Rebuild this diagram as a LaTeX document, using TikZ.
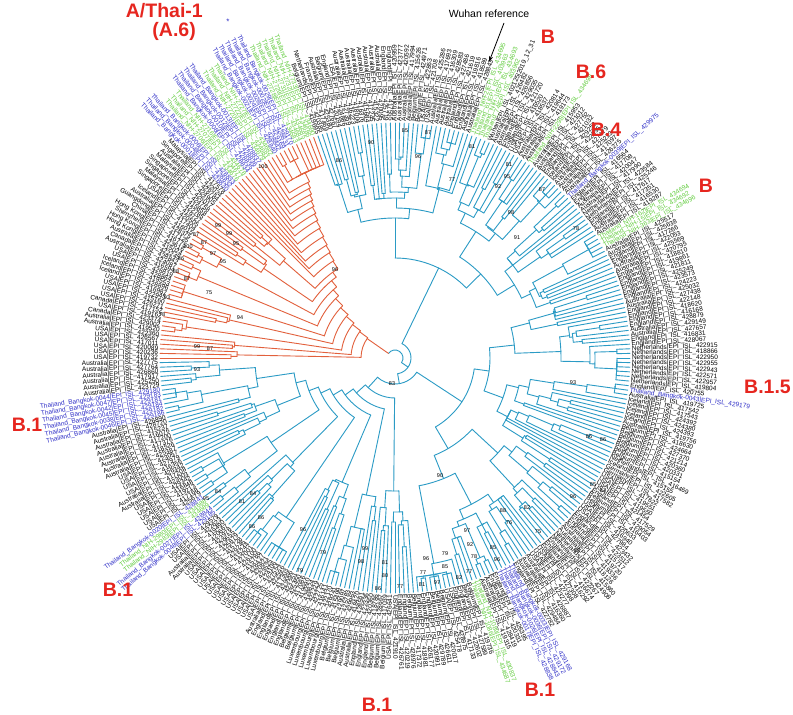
\documentclass[tikz,border=0pt]{standalone}
\usepackage{fontspec}
\setmainfont{Liberation Sans}
\usetikzlibrary{arrows.meta}
\definecolor{cladeA}{HTML}{E2603C}
\definecolor{cladeB}{HTML}{2B9BC5}
\definecolor{thB}{HTML}{3030C8}
\definecolor{thG}{HTML}{62CC3E}
\definecolor{labR}{HTML}{E6261F}
\tikzset{
  br/.style={line width=0.9pt, line cap=round, line join=round},
  leaflab/.style={font=\fontsize{6.5}{6.5}\selectfont, inner sep=0pt, outer sep=0pt},
  boot/.style={font=\fontsize{5.5}{5.5}\selectfont, inner sep=0pt, text=black},
  cladelab/.style={font=\bfseries\fontsize{19.5}{19.5}\selectfont, text=labR, inner sep=0pt},
  wuhantext/.style={font=\fontsize{10.5}{10.5}\selectfont, inner sep=0pt},
}
\newcommand\TArc[4]{\draw[br,#1] (#3:#2pt) arc[start angle=#3, end angle=#4, radius=#2pt];}
\newcommand\TRad[4]{\draw[br,#1] (#2:#3pt) -- (#2:#4pt);}
\newcommand\TLab[6]{\node[leaflab,text=#5,anchor=#4,rotate=#3] (L#1) at (#2:237pt) {#6};}
\ExplSyntaxOn
\int_new:N \g_tr_seed_int
\int_gset:Nn \g_tr_seed_int {2024}
\int_new:N \l_tr_tmp_int
\cs_new_protected:Npn \tr_rand:Nn #1#2
  {
    \int_gset:Nn \g_tr_seed_int { \int_mod:nn { \g_tr_seed_int * 75 + 74 } { 65537 } }
    \int_set:Nn #1 { \int_mod:nn { \g_tr_seed_int } { #2 } }
  }
\intarray_new:Nn \g_tr_h_intarray {330}
\intarray_new:Nn \g_tr_f_intarray {330}
\intarray_new:Nn \g_tr_fl_intarray {330}
\intarray_new:Nn \g_tr_fr_intarray {330}
\cs_new:Npn \tr_h:n #1 { \intarray_item:Nn \g_tr_h_intarray { #1 + 2 } }
\cs_new:Npn \tr_f:n #1 { \intarray_item:Nn \g_tr_f_intarray { #1 + 2 } }
\cs_new_protected:Npn \tr_force:nn #1#2 { \intarray_gset:Nnn \g_tr_f_intarray { #1 + 2 } { #2 } }
\cs_new_protected:Npn \__tr_fp:w #1/#2 \q_stop { \tr_force:nn {#1} {#2} }
\clist_map_inline:nn
  {
    2/34, 5/44, 9/54, 13/64, 17/74, 22/84, 27/92, 33/100, 39/106,
    40/115, 41/124, 42/132, 43/141, 44/150, 45/158, 46/165, 47/172, 48/178, 49/184, 50/190, 51/196,
    62/8, 143/16, 97/100, 72/140, 88/150, 120/120, 108/150, 131/140,
    235/26, 190/80, 165/95, 150/120, 178/115,
    205/105, 225/130, 198/140, 213/165, 217/175, 221/180,
    245/40, 255/52, 265/62, 275/72, 283/82, 295/92, 305/102, 288/150, 307/150, 313/140
  }
  { \__tr_fp:w #1 \q_stop }

\int_new:N \l_tr_last_int
\int_new:N \l_tr_d_int
\int_new:N \l_tr_lo_int
\int_new:N \l_tr_D_int
\cs_new_protected:Npn \tr_fill:
  {
    \int_set:Nn \l_tr_last_int {0}
    \int_step_inline:nnn {0} {318}
      {
        \int_compare:nNnT { \tr_f:n {##1} } > {0}
          { \int_set:Nn \l_tr_last_int { \tr_f:n {##1} } }
        \intarray_gset:Nnn \g_tr_fl_intarray { ##1 + 2 } { \l_tr_last_int }
      }
    \int_set:Nn \l_tr_last_int {0}
    \int_step_inline:nnnn {318} {-1} {0}
      {
        \int_compare:nNnT { \tr_f:n {##1} } > {0}
          { \int_set:Nn \l_tr_last_int { \tr_f:n {##1} } }
        \intarray_gset:Nnn \g_tr_fr_intarray { ##1 + 2 } { \l_tr_last_int }
      }
    \intarray_gset:Nnn \g_tr_h_intarray {1} {-1000}
    \intarray_gset:Nnn \g_tr_h_intarray {321} {-1000}
    \int_set:Nn \l_tr_d_int {25}
    \int_step_inline:nnn {0} {318}
      {
        \int_compare:nNnTF { \tr_f:n {##1} } > {0}
          {
            \intarray_gset:Nnn \g_tr_h_intarray { ##1 + 2 } { \tr_f:n {##1} }
            \int_set:Nn \l_tr_d_int {25}
          }
          {
            \int_set:Nn \l_tr_lo_int
              {
                \int_max:nn { \intarray_item:Nn \g_tr_fl_intarray { ##1 + 2 } }
                            { \intarray_item:Nn \g_tr_fr_intarray { ##1 + 2 } } + 10
              }
            \int_set:Nn \l_tr_D_int { \int_min:nn { 222 - \l_tr_lo_int } { 95 } }
            \int_compare:nNnT { \l_tr_D_int } < {0} { \int_set:Nn \l_tr_D_int {0} }
            \tr_rand:Nn \l_tr_tmp_int {71}
            \int_set:Nn \l_tr_d_int { \l_tr_d_int + \l_tr_tmp_int - 35 }
            \int_compare:nNnT { \l_tr_d_int } < {0} { \int_set:Nn \l_tr_d_int {0} }
            \int_compare:nNnT { \l_tr_d_int } > { \l_tr_D_int }
              { \int_set_eq:NN \l_tr_d_int \l_tr_D_int }
            \intarray_gset:Nnn \g_tr_h_intarray { ##1 + 2 } { 222 - \l_tr_d_int }
          }
      }
  }

\int_new:N \l_tr_hg_int
\int_new:N \l_tr_a_int
\int_new:N \l_tr_b_int
\int_new:N \l_tr_rl_int
\int_new:N \l_tr_rr_int
\int_new:N \l_tr_j_int
\tl_new:N \l_tr_ca_tl
\tl_new:N \l_tr_cl_tl
\tl_new:N \l_tr_al_tl
\tl_new:N \l_tr_ar_tl
\cs_new_protected:Npn \tr_node:n #1
  {
    \int_set:Nn \l_tr_hg_int { \tr_h:n {#1} }
    \int_set:Nn \l_tr_j_int { #1 - 1 }
    \int_while_do:nNnn { \tr_h:n { \l_tr_j_int } } > { \l_tr_hg_int - 1 }
      { \int_decr:N \l_tr_j_int }
    \int_set:Nn \l_tr_a_int { \l_tr_j_int + 1 }
    \int_set:Nn \l_tr_j_int { #1 + 1 }
    \int_while_do:nNnn { \tr_h:n { \l_tr_j_int } } > { \l_tr_hg_int }
      { \int_incr:N \l_tr_j_int }
    \int_set_eq:NN \l_tr_b_int \l_tr_j_int
    \int_set:Nn \l_tr_rl_int {235}
    \int_compare:nNnT { \l_tr_a_int } < { #1 }
      {
        \int_set:Nn \l_tr_rl_int {1000}
        \int_step_inline:nnn { \l_tr_a_int } { #1 - 1 }
          { \int_set:Nn \l_tr_rl_int { \int_min:nn { \l_tr_rl_int } { \tr_h:n {##1} } } }
      }
    \int_set:Nn \l_tr_rr_int {235}
    \int_compare:nNnT { \l_tr_b_int } > { #1 + 1 }
      {
        \int_set:Nn \l_tr_rr_int {1000}
        \int_step_inline:nnn { #1 + 1 } { \l_tr_b_int - 1 }
          { \int_set:Nn \l_tr_rr_int { \int_min:nn { \l_tr_rr_int } { \tr_h:n {##1} } } }
      }
    \tl_set:Nx \l_tr_al_tl { \fp_eval:n { 180 - 0.5625 * ( \l_tr_a_int + #1 ) } }
    \tl_set:Nx \l_tr_ar_tl { \fp_eval:n { 180 - 0.5625 * ( #1 + 1 + \l_tr_b_int ) } }
    \int_compare:nNnTF { \l_tr_b_int } < { 63 }
      { \tl_set:Nn \l_tr_ca_tl {cladeA} } { \tl_set:Nn \l_tr_ca_tl {cladeB} }
    \int_compare:nNnTF { #1 } < { 63 }
      { \tl_set:Nn \l_tr_cl_tl {cladeA} } { \tl_set:Nn \l_tr_cl_tl {cladeB} }
    \use:e
      {
        \exp_not:N \TArc { \l_tr_ca_tl } { \int_use:N \l_tr_hg_int } { \l_tr_al_tl } { \l_tr_ar_tl }
        \exp_not:N \TRad { \l_tr_cl_tl } { \l_tr_al_tl } { \int_use:N \l_tr_hg_int } { \int_use:N \l_tr_rl_int }
        \exp_not:N \TRad { \l_tr_ca_tl } { \l_tr_ar_tl } { \int_use:N \l_tr_hg_int } { \int_use:N \l_tr_rr_int }
      }
  }

\cs_new_protected:Npn \tr_bp:nn #1#2 { \tl_gset:cn { g_tr_bp_#1_tl } {#2} }
\cs_new_protected:Npn \__tr_bpw:w #1/#2 \q_stop { \tr_bp:nn {#1} {#2} }
\cs_new_protected:Npn \tr_setlab:nnn #1#2#3
  { \tl_gset:cn { g_tr_lab_#1_tl } {#3} \tl_gset:cn { g_tr_col_#1_tl } {#2} }
\cs_new_protected:Npn \__tr_lw:w #1/#2/#3 \q_stop { \tr_setlab:nnn {#1} {#2} {#3} }

\clist_map_inline:nn
  {
    0/USA, 6/Australia, 8/Canada, 9/USA, 10/Canada, 11/USA, 15/Iceland, 18/USA, 20/Australia,
    21/Canada, 22/Australia, 23/Hong~Kong, 25/Shenzhen, 26/Hong~Kong, 27/China, 28/Guangdong,
    29/Australia, 30/Iceland, 31/USA, 32/Singapore, 33/Malaysia, 34/Singapore, 36/Malaysia,
    37/Australia, 38/Singapore, 39/Malaysia,
    63/Belgium, 64/Netherlands, 65/France, 66/Australia, 67/Belgium, 68/England, 69/USA,
    70/Australia, 78/England, 80/Australia, 84/Belgium, 86/USA, 88/Australia, 92/England,
    95/Australia, 102/Australia, 104/England, 106/USA, 108/Australia, 112/Australia,
    114/England, 116/Iceland, 118/Australia, 123/England, 125/Australia, 127/Netherlands,
    129/England, 131/Australia, 148/Australia, 150/England, 154/Australia, 156/England,
    158/Netherlands, 191/Belgium,
    193/USA, 196/England, 199/Australia, 202/Netherlands, 204/England, 207/USA, 210/Australia,
    213/England, 218/England, 220/Australia, 224/Belgium, 226/England, 228/USA, 230/Belgium,
    233/England, 236/Belgium, 238/England, 240/USA, 242/Belgium, 245/England, 248/Australia,
    250/Belgium, 253/Luxembourg, 258/Belgium, 260/England, 265/Australia, 266/USA,
    280/Australia, 282/USA, 289/USA, 294/Australia, 296/USA, 300/Australia, 314/Australia
  }
  { \__tr_bpw:w #1 \q_stop }

\clist_map_inline:nn
  {
    40/thB/Thailand_Bangkok-0001|EPI_ISL_428830,
    41/thB/Thailand_Bangkok-0004|EPI_ISL_428832,
    42/thB/Thailand_Bangkok-0006|EPI_ISL_428833,
    43/thG/Thailand_NIH-2706|EPI_ISL_434676,
    44/thG/Thailand_NIH-2707|EPI_ISL_434677,
    45/thG/Thailand_NIH-2716|EPI_ISL_434678,
    46/thB/Thailand_Bangkok-0008|EPI_ISL_428834,
    47/thB/Thailand_Bangkok-0010|EPI_ISL_428835,
    48/thB/Thailand_Bangkok-0012|EPI_ISL_428836,
    49/thB/Thailand_Bangkok-0013|EPI_ISL_428837,
    50/thG/Thailand_NIH-2720|EPI_ISL_434679,
    51/thG/Thailand_NIH-2722|EPI_ISL_434681,
    52/thG/Thailand_NIH-2727|EPI_ISL_434682,
    53/thB/Thailand_Bangkok-0021|EPI_ISL_428840,
    54/thB/Thailand_Bangkok-0024|EPI_ISL_428842,
    55/thB/Thailand_Bangkok-0028|EPI_ISL_429169,
    56/thB/Thailand_Bangkok-0002|EPI_ISL_428831,
    57/thB/Thailand_Bangkok-0029|EPI_ISL_429170,
    58/thG/Thailand_NIH-2728|EPI_ISL_434683,
    59/thG/Thailand_NIH-2729|EPI_ISL_434684,
    60/thG/Thailand_NIH-2731|EPI_ISL_434685,
    61/thG/Thailand_NIH-2732|EPI_ISL_434686,
    62/thG/Thailand_NIH-2733|EPI_ISL_434690,
    97/thG/Thailand_NIH-2|EPI_ISL_434695,
    98/thG/Thailand_61|EPI_ISL_403963,
    99/thG/Thailand_NIH-1|EPI_ISL_434693,
    100/thG/Thailand_74|EPI_ISL_403962,
    101/black/Wuhan|EPI_ISL_402125|2019_12_31,
    111/thG/Thailand_NIH-2298|EPI_ISL_434698,
    122/thB/Thailand_Bangkok-0039|EPI_ISL_429975,
    133/thG/Thailand_NIH-162|EPI_ISL_434694,
    134/thG/Thailand_NIH-15|EPI_ISL_434692,
    135/thG/Thailand_NIH-363|EPI_ISL_434696,
    136/black/Australia|EPI_ISL_425517,
    137/black/Australia|EPI_ISL_425638,
    138/black/England|EPI_ISL_417266,
    139/black/England|EPI_ISL_422053,
    140/black/Australia|EPI_ISL_425569,
    141/black/Australia|EPI_ISL_420795,
    142/black/England|EPI_ISL_418810,
    143/black/England|EPI_ISL_419861,
    144/black/England|EPI_ISL_421811,
    145/black/England|EPI_ISL_425249,
    146/black/England|EPI_ISL_423573,
    147/black/England|EPI_ISL_424223,
    160/black/Netherlands|EPI_ISL_422950,
    161/black/Netherlands|EPI_ISL_422955,
    162/black/Netherlands|EPI_ISL_422943,
    163/black/Netherlands|EPI_ISL_422571,
    164/black/Netherlands|EPI_ISL_422957,
    165/black/Netherlands|EPI_ISL_419804,
    166/black/England|EPI_ISL_420755,
    167/thB/Thailand_Bangkok-0043|EPI_ISL_429179,
    168/black/Australia|EPI_ISL_419725,
    169/black/Iceland|EPI_ISL_417542,
    170/black/Iceland|EPI_ISL_417543,
    171/black/Iceland|EPI_ISL_424392,
    172/black/Iceland|EPI_ISL_424380,
    173/black/Iceland|EPI_ISL_424393,
    174/black/Australia|EPI_ISL_419756,
    175/black/Belgium|EPI_ISL_418630,
    176/black/Belgium|EPI_ISL_424664,
    177/black/Belgium|EPI_ISL_427370,
    178/black/Belgium|EPI_ISL_421214,
    179/black/Belgium|EPI_ISL_420360,
    180/black/Belgium|EPI_ISL_420331,
    181/black/Belgium|EPI_ISL_415154,
    182/black/Netherlands|EPI_ISL_416469,
    183/black/Iceland|EPI_ISL_415155,
    184/black/Germany|EPI_ISL_422605,
    185/black/Germany|EPI_ISL_417582,
    186/black/USA|EPI_ISL_417622,
    187/black/USA|EPI_ISL_419551,
    188/black/USA|EPI_ISL_419550,
    189/black/USA|EPI_ISL_421454,
    190/black/England|EPI_ISL_417529,
    214/thB/Thailand_Bangkok-0033|EPI_ISL_429168,
    215/thB/Thailand_Bangkok-0036|EPI_ISL_429172,
    216/thB/Thailand_Bangkok-0026|EPI_ISL_428843,
    217/thB/Thailand_Bangkok-0017|EPI_ISL_428838,
    222/thG/Thailand_NIH-1089|EPI_ISL_430837,
    223/thG/Thailand_NIH-1086|EPI_ISL_434687,
    284/thB/Thailand_Bangkok-0048|EPI_ISL_429185,
    285/thB/Thailand_Bangkok-0027|EPI_ISL_428844,
    286/thG/Thailand_NIH-2983|EPI_ISL_434689,
    287/thG/Thailand_NIH-2980|EPI_ISL_434688,
    288/thB/Thailand_Bangkok-0020|EPI_ISL_428841,
    308/thB/Thailand_Bangkok-0046|EPI_ISL_429186,
    309/thB/Thailand_Bangkok-0038|EPI_ISL_429182,
    310/thB/Thailand_Bangkok-0045|EPI_ISL_429184,
    311/thB/Thailand_Bangkok-0042|EPI_ISL_429181,
    312/thB/Thailand_Bangkok-0047|EPI_ISL_429183,
    313/thB/Thailand_Bangkok-0044|EPI_ISL_429180,
    317/black/Australia|EPI_ISL_426860,
    318/black/Australia|EPI_ISL_427764,
    319/black/Australia|EPI_ISL_427775
  }
  { \__tr_lw:w #1 \q_stop }

\tl_new:N \l_tr_cty_tl
\tl_new:N \l_tr_text_tl
\tl_new:N \l_tr_col_tl
\tl_new:N \l_tr_anc_tl
\tl_new:N \l_tr_th_tl
\tl_new:N \l_tr_rot_tl
\cs_new_protected:Npn \tr_labels:
  {
    \tl_set:Nn \l_tr_cty_tl {USA}
    \int_step_inline:nnn {0} {319}
      {
        \tl_if_exist:cT { g_tr_bp_##1_tl } { \tl_set_eq:Nc \l_tr_cty_tl { g_tr_bp_##1_tl } }
        \tr_rand:Nn \l_tr_tmp_int {15000}
        \tl_if_exist:cTF { g_tr_lab_##1_tl }
          {
            \tl_set_eq:Nc \l_tr_text_tl { g_tr_lab_##1_tl }
            \tl_set_eq:Nc \l_tr_col_tl { g_tr_col_##1_tl }
          }
          {
            \tl_set:Nx \l_tr_text_tl
              { \exp_not:V \l_tr_cty_tl | EPI_ISL_ \int_eval:n { 415000 + \l_tr_tmp_int } }
            \tl_set:Nn \l_tr_col_tl {black}
          }
        \tl_set:Nx \l_tr_th_tl { \fp_eval:n { 180 - 1.125 * ##1 } }
        \int_compare:nNnTF { ##1 } < { 80 }
          {
            \tl_set:Nx \l_tr_rot_tl { \fp_eval:n { \l_tr_th_tl - 180 } }
            \tl_set:Nn \l_tr_anc_tl {east}
          }
          {
            \int_compare:nNnTF { ##1 } > { 240 }
              {
                \tl_set:Nx \l_tr_rot_tl { \fp_eval:n { \l_tr_th_tl + 180 } }
                \tl_set:Nn \l_tr_anc_tl {east}
              }
              {
                \tl_set_eq:NN \l_tr_rot_tl \l_tr_th_tl
                \tl_set:Nn \l_tr_anc_tl {west}
              }
          }
        \use:e
          {
            \exp_not:N \TLab { ##1 } { \l_tr_th_tl } { \l_tr_rot_tl } { \l_tr_anc_tl } { \l_tr_col_tl }
              { \exp_not:V \l_tr_text_tl }
          }
      }
  }
\cs_new_protected:Npn \DrawTree { \tr_fill: \int_step_function:nnN {0} {318} \tr_node:n }
\cs_new_protected:Npn \DrawLabels { \tr_labels: }
\ExplSyntaxOff

\begin{document}
\begin{tikzpicture}[x=1pt,y=1pt]
\useasboundingbox (0,0) rectangle (793,-715);
\fill[white] (0,0) rectangle (793,-715);
\begin{scope}[shift={(395,-358)}]
\DrawTree
\DrawLabels
\end{scope}
% bootstrap values
\foreach \bx/\by/\bv [count=\bc] in {263/167/100, 218/226/99, 229/234/99, 196/235/87, 204/243/87, 236/244/95,
  188/247/100, 213/254/97, 223/262/95, 181/259/86, 176/272/88, 187/279/87, 209/293/75, 335/270/96,
  167/298/93, 162/315/78, 240/318/94, 197/347/99, 210/349/87, 339/161/86, 371/143/90, 405/131/85,
  428/133/87, 418/157/96, 472/147/81, 452/180/77, 509/165/81, 507/177/95, 498/187/92, 542/190/87,
  511/213/98, 517/238/91, 576/229/78, 573/383/93, 392/384/83, 589/437/86, 603/440/86, 593/485/85,
  603/491/87, 573/497/96, 440/476/90, 577/551/98, 503/511/88, 527/508/82, 509/523/76, 538/532/75,
  467/531/97, 470/545/92, 493/548/85, 497/560/96, 474/557/78, 445/554/79, 426/559/96, 445/567/85,
  423/573/77, 459/578/82, 469/572/77, 400/587/77, 422/585/81, 437/583/97, 197/370/93, 206/499/95,
  218/492/84, 253/494/84, 242/502/81, 261/518/86, 252/527/86, 303/530/96, 323/553/79, 300/571/79,
  365/549/99, 361/562/98, 385/563/81, 385/576/80, 378/589/86}
  \node[boot] (bs\bc) at (\bx,-\by) {\bv};
% clade labels
\node[cladelab, anchor=east] (cA) at (203,-11) {A/Thai-1};
\node[cladelab, anchor=east] (cA6) at (196,-31) {(A.6)};
\node[cladelab] (cBtop) at (548,-37) {B};
\node[cladelab] (cB6) at (591,-72) {B.6};
\node[cladelab] (cB4) at (606,-130) {B.4};
\node[cladelab] (cBr) at (706,-186) {B};
\node[cladelab, anchor=east] (cB15) at (791,-387) {B.1.5};
\node[cladelab] (cB1l) at (27,-425) {B.1};
\node[cladelab] (cB1ll) at (118,-590) {B.1};
\node[cladelab] (cB1b) at (377,-705) {B.1};
\node[cladelab] (cB1br) at (540,-690) {B.1};
\node[text=thB, font=\fontsize{8}{8}\selectfont, inner sep=0pt] (star) at (228,-22) {*};
% Wuhan reference
\node[wuhantext] (wuhan) at (489,-14) {Wuhan reference};
\coordinate (wtail) at (504,-23);
\coordinate (whead) at (489,-62);
\draw[-{Stealth[length=6pt,width=4pt]}, line width=0.8pt] (wtail) -- (whead);
\end{tikzpicture}
\end{document}
